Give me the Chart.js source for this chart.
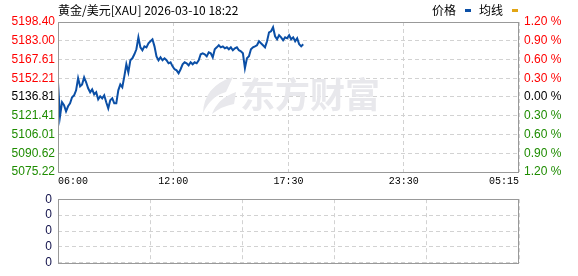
<!DOCTYPE html>
<html>
<head>
<meta charset="utf-8">
<title>黄金/美元[XAU]</title>
<script src="https://cdn.jsdelivr.net/npm/chart.js@4.4.1/dist/chart.umd.min.js"></script>
<style>
  html, body { margin: 0; padding: 0; background: #fff; }
  #wrap { position: relative; width: 578px; height: 276px; overflow: hidden; }
  #title { position: absolute; left: 58px; top: 1px; font: 12px "Noto Sans CJK SC", sans-serif; color: #000; white-space: nowrap; }
  #legend { position: absolute; left: 432px; top: 1px; font: 12px "Noto Sans CJK SC", sans-serif; color: #000; white-space: nowrap; }
  #legend .mk { display: inline-block; width: 6px; height: 3px; margin: 0 8px 2px 9px; vertical-align: middle; }
  #priceBox { position: absolute; left: 0; top: 0; width: 578px; height: 192px; }
  #volBox { position: absolute; left: 0; top: 186px; width: 578px; height: 90px; }
</style>
</head>
<body>
<div id="wrap">
  <div id="priceBox"><canvas id="priceChart"></canvas></div>
  <div id="volBox"><canvas id="volumeChart"></canvas></div>
  <div id="title">黄金/美元[XAU] 2026-03-10 18:22</div>
  <div id="legend">价格<i class="mk" style="background:#0b4fa6"></i>均线<i class="mk" style="background:#e2a514"></i></div>
</div>
<script>
'use strict';

// Intraday gold price, 06:00 -> 18:22, sampled evenly
const prevClose = 5136.81;
const lastMinute = 742; // 18:22 counted from 06:00
const sessionMinutes = 1395; // 06:00 -> 05:15 next day
const prices = [
  5148.9, 5121.0, 5132.5, 5130.0, 5125.1, 5129.2, 5131.6, 5136.6, 5138.2, 5142.3,
  5152.2, 5145.6, 5147.2, 5153.0, 5148.9, 5144.0, 5140.7, 5143.1, 5139.0, 5140.7,
  5134.9, 5137.4, 5135.7, 5138.2, 5132.5, 5127.5, 5134.1, 5135.7, 5131.6, 5131.6,
  5142.3, 5147.2, 5144.8, 5153.8, 5163.7, 5157.1, 5167.0, 5168.6, 5171.9, 5176.0,
  5185.8, 5177.6, 5175.2, 5178.4, 5177.6, 5180.9, 5182.6, 5184.2, 5178.4, 5170.2,
  5167.0, 5169.4, 5167.0, 5168.6, 5167.0, 5164.5, 5165.3, 5162.0, 5159.6, 5158.7,
  5156.3, 5159.6, 5163.7, 5165.3, 5164.5, 5162.8, 5165.3, 5163.7, 5165.3, 5164.5,
  5167.0, 5171.9, 5172.7, 5171.9, 5170.2, 5173.5, 5172.7, 5169.4, 5176.0, 5177.6,
  5179.3, 5177.6, 5178.4, 5176.8, 5177.6, 5176.0, 5177.6, 5175.2, 5176.8, 5177.6,
  5175.2, 5174.3, 5172.7, 5160.4, 5168.6, 5170.2, 5176.0, 5177.6, 5178.4, 5179.3,
  5182.6, 5180.9, 5179.3, 5177.6, 5182.6, 5189.9, 5190.8, 5194.1, 5186.7, 5184.2,
  5187.5, 5185.8, 5183.4, 5185.8, 5185.0, 5187.5, 5184.2, 5185.8, 5182.6, 5185.0,
  5180.1, 5178.4, 5180.1
];
const avgLine = []; // 均线 not plotted in this snapshot

const priceTicks = ['5198.40', '5183.00', '5167.61', '5152.21', '5136.81', '5121.41', '5106.01', '5090.62', '5075.22'];
const pctTicks = ['1.20 %', '0.90 %', '0.60 %', '0.30 %', '0.00 %', '0.30 %', '0.60 %', '0.90 %', '1.20 %'];
const pctValues = [1.2, 0.9, 0.6, 0.3, 0, -0.3, -0.6, -0.9, -1.2];
const timeTicks = ['06:00', '12:00', '17:30', '23:30', '05:15'];
const volTicks = ['0', '0', '0', '0', '0'];

const upColor = '#ff0000';
const downColor = '#1e8c00';
const flatColor = '#000000';
const gridColor = '#d2d2d2';
const frameColor = '#999999';
const lineColor = '#0b4fa6';
const labelFont = { family: '"Liberation Sans", Arial, sans-serif', size: 12 };
const timeFont = { family: '"Liberation Mono", "DejaVu Sans Mono", monospace', size: 10 };

function signColor(v, mid) {
  if (v > mid + 1e-6) return upColor;
  if (v < mid - 1e-6) return downColor;
  return flatColor;
}

// frame round the plot area
const framePlugin = {
  id: 'frame',
  afterDatasetsDraw(chart) {
    const a = chart.chartArea, ctx = chart.ctx;
    ctx.save();
    ctx.strokeStyle = frameColor;
    ctx.lineWidth = 1;
    ctx.strokeRect(Math.round(a.left) + 0.5, Math.round(a.top) + 0.5, Math.round(a.right - a.left) - 1, Math.round(a.bottom - a.top));
    ctx.restore();
  }
};

// faint brand watermark behind the line
const watermarkPlugin = {
  id: 'watermark',
  beforeDatasetsDraw(chart) {
    const ctx = chart.ctx;
    ctx.save();
    ctx.fillStyle = '#e8e8ec';
    ctx.beginPath();
    ctx.moveTo(233, 77);
    ctx.quadraticCurveTo(204, 86, 203, 113);
    ctx.quadraticCurveTo(211, 96, 226, 92);
    ctx.closePath();
    ctx.fill();
    ctx.beginPath();
    ctx.moveTo(236, 92);
    ctx.quadraticCurveTo(218, 98, 212, 114);
    ctx.quadraticCurveTo(222, 106, 234, 104);
    ctx.closePath();
    ctx.fill();
    ctx.font = 'bold 35px "Noto Sans CJK SC", sans-serif';
    ctx.textBaseline = 'middle';
    ctx.fillText('东方财富', 240, 95);
    ctx.restore();
  }
};

const xScale = (showLabels) => ({
  type: 'linear',
  min: 0,
  max: sessionMinutes,
  afterBuildTicks: s => { s.ticks = timeTicks.map((_, i) => ({ value: i * sessionMinutes / (timeTicks.length - 1) })); },
  ticks: {
    display: showLabels,
    callback: (v, i) => timeTicks[i],
    align: 'inner',
    autoSkip: false,
    maxRotation: 0,
    padding: 3,
    color: '#000',
    font: timeFont
  },
  grid: { color: gridColor, drawTicks: false },
  border: { display: false, dash: [4, 3] }
});

const priceEl = document.getElementById('priceChart');
new Chart(priceEl, {
  type: 'line',
  data: {
    datasets: [
      {
        label: '价格',
        data: prices.map((p, i) => ({ x: i * lastMinute / (prices.length - 1), y: p })),
        borderColor: lineColor,
        borderWidth: 2,
        pointRadius: 0,
        tension: 0,
        yAxisID: 'y'
      },
      {
        label: '均线',
        data: avgLine,
        borderColor: '#e2a514',
        borderWidth: 1,
        pointRadius: 0,
        yAxisID: 'y'
      }
    ]
  },
  options: {
    responsive: true,
    maintainAspectRatio: false,
    animation: false,
    layout: { padding: { top: 22, left: 0, right: 0, bottom: 0 } },
    plugins: { legend: { display: false }, tooltip: { enabled: false } },
    scales: {
      x: Object.assign(xScale(true), { afterFit: s => { s.height = 20; } }),
      y: {
        type: 'linear',
        position: 'left',
        min: parseFloat(priceTicks[priceTicks.length - 1]),
        max: parseFloat(priceTicks[0]),
        afterBuildTicks: s => { s.ticks = priceTicks.slice().reverse().map(t => ({ value: parseFloat(t) })); },
        afterFit: s => { s.width = 58; },
        ticks: {
          callback: v => v.toFixed(2),
          color: c => signColor(c.tick.value, prevClose),
          padding: 3,
          font: labelFont,
          autoSkip: false
        },
        grid: { color: gridColor, drawTicks: false },
        border: { display: false, dash: [4, 3] }
      },
      pct: {
        type: 'linear',
        position: 'right',
        min: -1.2,
        max: 1.2,
        afterBuildTicks: s => { s.ticks = pctValues.slice().reverse().map(v => ({ value: v })); },
        afterFit: s => { s.width = 59; },
        ticks: {
          callback: v => pctTicks[pctValues.indexOf(v)],
          color: c => signColor(c.tick.value, 0),
          padding: 5,
          font: labelFont,
          autoSkip: false
        },
        grid: { display: false, drawTicks: false },
        border: { display: false }
      }
    }
  },
  plugins: [watermarkPlugin, framePlugin]
});

// volume panel (no volume reported)
const volEl = document.getElementById('volumeChart');
new Chart(volEl, {
  type: 'bar',
  data: { datasets: [{ label: '成交量', data: [], backgroundColor: lineColor }] },
  options: {
    responsive: true,
    maintainAspectRatio: false,
    animation: false,
    layout: { padding: { top: 10, left: 0, right: 0, bottom: 6 } },
    plugins: { legend: { display: false }, tooltip: { enabled: false } },
    scales: {
      x: xScale(false),
      y: {
        type: 'linear',
        position: 'left',
        min: 0,
        max: volTicks.length - 1,
        afterBuildTicks: s => { s.ticks = volTicks.map((_, i) => ({ value: i })); },
        afterFit: s => { s.width = 58; },
        ticks: {
          callback: (v, i) => volTicks[i],
          color: '#10104a',
          padding: 6,
          font: labelFont,
          autoSkip: false
        },
        grid: { color: gridColor, drawTicks: false },
        border: { display: false, dash: [4, 3] }
      },
      r: {
        type: 'linear',
        position: 'right',
        display: true,
        afterFit: s => { s.width = 59; },
        ticks: { display: false },
        grid: { display: false, drawTicks: false },
        border: { display: false }
      }
    }
  },
  plugins: [framePlugin]
});
</script>
</body>
</html>
